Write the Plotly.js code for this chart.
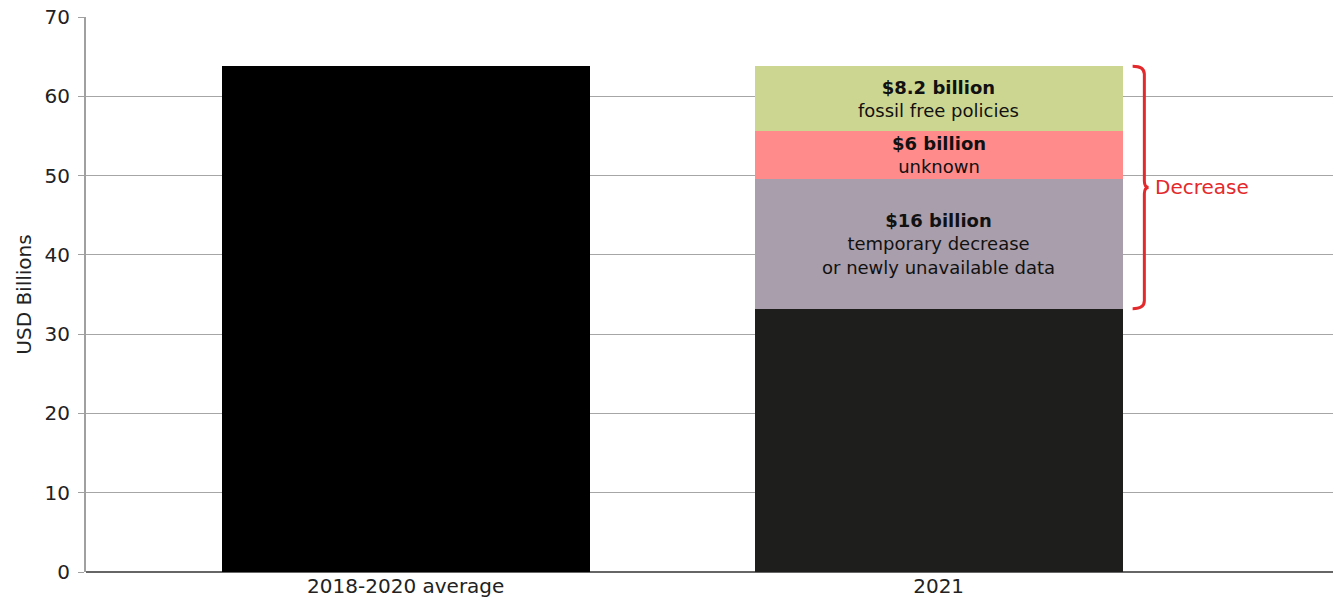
<!DOCTYPE html>
<html>
<head>
<meta charset="utf-8">
<script src="https://cdn.plot.ly/plotly-3.0.1.min.js"></script>
<style>html,body{margin:0;padding:0;background:#fff;}#chart{width:1333px;height:605px;}</style>
</head>
<body>
<div id="chart"></div>
<script>
const categories = ["2018-2020 average", "2021"];
const baseValues = [63.8, 33.2];
const tempDecrease = [null, 16.4];
const unknownValues = [null, 6.0];
const fossilFree = [null, 8.2];
const segmentLabels = [
  {series: "temp", head: "$16 billion", lines: ["temporary decrease", "or newly unavailable data"]},
  {series: "unknown", head: "$6 billion", lines: ["unknown"]},
  {series: "fossil", head: "$8.2 billion", lines: ["fossil free policies"]}
];
const yTicks = [0, 10, 20, 30, 40, 50, 60, 70];

const FONT = "DejaVu Sans, sans-serif";
const red = "#e3292b";

const common = {type: "bar", x: categories, width: 0.69, hoverinfo: "skip", marker: {line: {width: 0}}};
const traces = [
  Object.assign({}, common, {y: baseValues, marker: {color: ["#000000", "#1e1e1c"]}}),
  Object.assign({}, common, {y: tempDecrease, marker: {color: "#a99eab"}}),
  Object.assign({}, common, {y: unknownValues, marker: {color: "#ff8b8b"}}),
  Object.assign({}, common, {y: fossilFree, marker: {color: "#cdd690"}})
];

// segment midpoints from data
const b = baseValues[1];
const t1 = b + tempDecrease[1];
const t2 = t1 + unknownValues[1];
const t3 = t2 + fossilFree[1];
const mids = {temp: (b + t1) / 2, unknown: (t1 + t2) / 2, fossil: (t2 + t3) / 2};
const idx2021 = categories.indexOf("2021");

const annotations = segmentLabels.map(s => ({
  x: idx2021, y: mids[s.series], xref: "x", yref: "y",
  text: "<b>" + s.head + "</b><br>" + s.lines.join("<br>"),
  showarrow: false, align: "center",
  font: {family: FONT, size: 18, color: "#111"},
  xanchor: "center", yanchor: "middle"
}));

// brace for decrease, spanning from base to top of stack
const xl = 1.364, xv = 1.386, xt = 1.394;
const mid = (b + t3) / 2;
const r = 1.0;
const bracePath = `M ${xl} ${t3} Q ${xv} ${t3} ${xv} ${t3 - r} L ${xv} ${mid + 0.8} Q ${xv} ${mid} ${xt} ${mid} Q ${xv} ${mid} ${xv} ${mid - 0.8} L ${xv} ${b + r} Q ${xv} ${b} ${xl} ${b}`;

annotations.push({
  x: 1.403, y: mid, xref: "x", yref: "y", text: "Decrease", showarrow: false,
  xanchor: "left", yanchor: "middle", font: {family: FONT, size: 20, color: red}
});

const layout = {
  width: 1333, height: 605,
  margin: {l: 86, r: 0, t: 17, b: 33},
  paper_bgcolor: "#fff", plot_bgcolor: "#fff",
  barmode: "stack", showlegend: false,
  font: {family: FONT, size: 20, color: "#222"},
  xaxis: {
    type: "category", range: [-0.6, 1.74], showgrid: false, ticks: "",
    tickfont: {family: FONT, size: 20, color: "#222"}, showline: false, zeroline: false, fixedrange: true
  },
  yaxis: {
    range: [0, 70], tickvals: yTicks, ticktext: yTicks.map(String),
    showgrid: true, gridcolor: "#a6a6a6", gridwidth: 1,
    zeroline: true, zerolinecolor: "#666", zerolinewidth: 1.5,
    showline: true, linecolor: "#a0a0a0", linewidth: 2,
    ticks: "outside", ticklen: 6, tickcolor: "#a0a0a0", ticklabelstandoff: 4,
    tickfont: {family: FONT, size: 20, color: "#222"},
    title: {text: "USD Billions", font: {family: FONT, size: 20, color: "#222"}, standoff: 8},
    fixedrange: true
  },
  shapes: [{type: "path", xref: "x", yref: "y", path: bracePath, line: {color: red, width: 3}}],
  annotations: annotations
};

Plotly.newPlot("chart", traces, layout, {displayModeBar: false, staticPlot: true});
</script>
</body>
</html>
